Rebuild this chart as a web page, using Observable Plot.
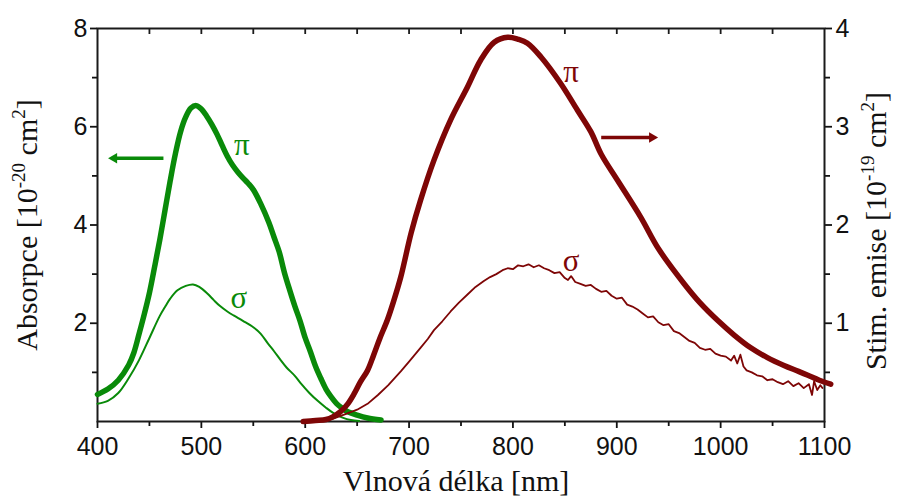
<!DOCTYPE html>
<html>
<head>
<meta charset="utf-8">
<script src="https://cdn.jsdelivr.net/npm/d3@7"></script>
<script src="https://cdn.jsdelivr.net/npm/@observablehq/plot@0.6"></script>
<style>
  html, body { margin: 0; padding: 0; background: #fff; }
  #chart svg { display: block; }
</style>
</head>
<body>
<div id="chart"></div>
<script>
// ---------- data (wavelength in nm) ----------
// absorption, pi polarisation [10^-20 cm^2] (left axis)
const absPiNm  = [400,410,420,430,435,440,445,450,455,460,465,470,475,480,485,490,495,500,505,510,515,520,525,530,535,540,545,550,557,565,570,575,580,585,590,595,600,605,610,615,620,625,630,635,640,650,660,673];
const absPiVal = [0.55,0.66,0.84,1.15,1.40,1.78,2.18,2.62,3.15,3.70,4.30,4.90,5.45,5.90,6.20,6.38,6.43,6.36,6.22,6.05,5.85,5.62,5.40,5.22,5.08,4.96,4.85,4.72,4.44,4.05,3.75,3.45,3.03,2.68,2.35,2.05,1.70,1.42,1.12,0.88,0.66,0.50,0.37,0.28,0.21,0.13,0.07,0.03];
// absorption, sigma polarisation [10^-20 cm^2] (left axis)
const absSigmaNm  = [400,410,420,430,440,450,460,465,470,477,485,492,498,506,512,518,525,531,540,550,557,564,570,576,582,590,596,604,612,620,628,636,644,652];
const absSigmaVal = [0.36,0.42,0.58,0.88,1.25,1.70,2.15,2.33,2.50,2.67,2.76,2.79,2.74,2.60,2.47,2.35,2.24,2.16,2.05,1.92,1.79,1.59,1.43,1.26,1.10,0.93,0.77,0.58,0.42,0.28,0.16,0.08,0.03,0.01];
// stimulated emission, pi polarisation [10^-19 cm^2] (right axis)
const emPiNm  = [598,610,620,627,634,641,647,653,660,666,672,679,685,692,702,711,724,740,756,769,782,795,805,814,827,846,862,875,885,901,923,940,965,980,997,1013,1029,1045,1061,1075,1084,1095,1106];
const emPiVal = [0.00,0.01,0.02,0.05,0.10,0.18,0.28,0.40,0.52,0.68,0.85,1.03,1.22,1.47,1.92,2.25,2.66,3.07,3.40,3.68,3.86,3.91,3.89,3.85,3.71,3.44,3.17,2.95,2.72,2.45,2.08,1.76,1.40,1.21,1.03,0.88,0.75,0.65,0.57,0.51,0.47,0.42,0.38];
// stimulated emission, sigma polarisation [10^-19 cm^2] (right axis)
const emSigmaNm  = [600,615,627,640,650,660,670,680,692,700,711,718,724,732,740,748,756,764,772,778,784,790,795,800,805,810,815,820,825,830,835,840,845,850,853,856,860,865,870,875,880,885,890,895,900,905,910,915,920,925,930,935,940,945,950,955,960,965,970,975,980,985,990,995,1000,1005,1010,1013,1016,1019,1022,1025,1030,1035,1040,1045,1050,1055,1060,1065,1070,1075,1080,1085,1088,1090,1093,1096,1098];
const emSigmaVal = [0.00,0.01,0.03,0.08,0.12,0.18,0.27,0.37,0.51,0.61,0.75,0.84,0.93,1.02,1.12,1.21,1.29,1.37,1.43,1.47,1.50,1.54,1.56,1.55,1.59,1.58,1.60,1.57,1.59,1.56,1.54,1.51,1.52,1.46,1.44,1.48,1.42,1.40,1.38,1.39,1.35,1.32,1.33,1.28,1.25,1.26,1.19,1.17,1.14,1.10,1.06,1.07,1.01,0.98,0.99,0.92,0.90,0.86,0.82,0.80,0.75,0.73,0.74,0.69,0.67,0.66,0.62,0.67,0.59,0.68,0.56,0.52,0.50,0.47,0.46,0.42,0.43,0.40,0.38,0.41,0.36,0.39,0.34,0.38,0.27,0.41,0.32,0.37,0.34];

// axis ticks
const xMajor = [400,500,600,700,800,900,1000,1100];
const xMinor = [450,550,650,750,850,950,1050];
const xTop   = [450,500,550,600,650,700,750,800,850,900,950,1000,1050];
const leftMajor = [2,4,6,8];
const leftMinor = [1,3,5,7];
const rightMajor = [1,2,3,4];        // in 10^-19 cm^2
const rightMinor = [0.5,1.5,2.5,3.5];
const emScale = 2;                    // right axis value -> left axis units

// annotations
const labels = [
  {text: "π", nm: 539, val: 5.62, series: "abs"},
  {text: "σ", nm: 536, val: 2.52, series: "abs"},
  {text: "π", nm: 856, val: 7.11, series: "em"},
  {text: "σ", nm: 856, val: 3.27, series: "em"}
];
const arrows = [
  {from: 463.5, to: 416, val: 5.36, series: "abs", dir: -90},
  {from: 885, to: 934, val: 5.78, series: "em", dir: 90}
];

const green = "#098a09";
const red = "#7e0606";
const colorOf = s => s === "abs" ? green : red;

const tbl = (xs, ys, k = 1) => xs.map((x, i) => ({x, y: ys[i] * k}));

const sans = "'Liberation Sans', Arial, Helvetica, sans-serif";
const serif = "'Liberation Serif', 'Times New Roman', serif";

const H = 497, MT = 28, MB = 76;
const innerH = H - MT - MB;

const chart = Plot.plot({
  width: 900,
  height: H,
  marginLeft: 97,
  marginRight: 76,
  marginTop: MT,
  marginBottom: MB,
  style: {fontFamily: sans, color: "#111", background: "#fff", overflow: "visible"},
  x: {domain: [400, 1100]},
  y: {domain: [0, 8]},
  marks: [
    // axes
    Plot.axisX({anchor: "bottom", ticks: xMajor, tickSize: 7, tickPadding: 9, fontSize: 25, tickFormat: d => String(d), label: null, strokeWidth: 1.8}),
    Plot.axisX({anchor: "bottom", ticks: xMinor, tickSize: 5, tickFormat: () => "", label: null, strokeWidth: 1.8}),
    // inward ticks on the top edge
    Plot.ruleX(xTop, {x: d => d, insetBottom: innerH - 6, stroke: "#1a1a1a", strokeWidth: 1.8}),
    Plot.axisY({anchor: "left", ticks: leftMajor, tickSize: 7, tickPadding: 3, fontSize: 25, tickFormat: d => String(d), label: null, strokeWidth: 1.8}),
    Plot.axisY({anchor: "left", ticks: leftMinor, tickSize: 5, tickFormat: () => "", label: null, strokeWidth: 1.8}),
    Plot.axisY({anchor: "right", ticks: rightMajor.map(d => d * emScale), tickFormat: d => String(d / emScale), tickSize: 7, tickPadding: 4, fontSize: 25, label: null, strokeWidth: 1.8}),
    Plot.axisY({anchor: "right", ticks: rightMinor.map(d => d * emScale), tickSize: 5, tickFormat: () => "", label: null, strokeWidth: 1.8}),
    Plot.frame({stroke: "#1a1a1a", strokeWidth: 2}),
    // curves
    Plot.line(tbl(absSigmaNm, absSigmaVal), {x: "x", y: "y", stroke: green, strokeWidth: 2, curve: "catmull-rom"}),
    Plot.line(tbl(absPiNm, absPiVal), {x: "x", y: "y", stroke: green, strokeWidth: 5.5, curve: "catmull-rom"}),
    Plot.line(tbl(emSigmaNm, emSigmaVal, emScale), {x: "x", y: "y", stroke: red, strokeWidth: 1.8, curve: "linear"}),
    Plot.line(tbl(emPiNm, emPiVal, emScale), {x: "x", y: "y", stroke: red, strokeWidth: 5.5, curve: "catmull-rom"}),
    // annotations
    Plot.text(labels, {x: "nm", y: "val", text: "text", fill: d => colorOf(d.series), fontSize: 31, fontFamily: serif}),
    Plot.link(arrows, {x1: "from", x2: "to", y1: "val", y2: "val", stroke: d => colorOf(d.series), strokeWidth: 3.5}),
    Plot.dot(arrows, {x: "to", y: "val", symbol: "triangle2", r: 5, rotate: "dir", fill: d => colorOf(d.series), stroke: "none"})
  ]
});

document.getElementById("chart").appendChild(chart);

// axis titles with superscripts
const svg = d3.select(chart);
function title(x, y, rot, parts) {
  const t = svg.append("text")
    .attr("transform", `translate(${x},${y}) rotate(${rot})`)
    .attr("text-anchor", "middle")
    .attr("font-family", serif)
    .attr("font-size", 30)
    .attr("fill", "#111");
  parts.forEach(([s, sup]) => {
    const ts = t.append("tspan").text(s);
    if (sup === 1) ts.attr("font-size", 19).attr("dy", -12);
    if (sup === -1) ts.attr("dy", 12);
  });
}
title(37, 225, -90, [["Absorpce [10", 0], ["-20", 1], [" cm", -1], ["2", 1], ["]", -1]]);
title(886, 231, -90, [["Stim. emise [10", 0], ["-19", 1], [" cm", -1], ["2", 1], ["]", -1]]);
title(456, 491, 0, [["Vlnová délka [nm]", 0]]);
</script>
</body>
</html>
